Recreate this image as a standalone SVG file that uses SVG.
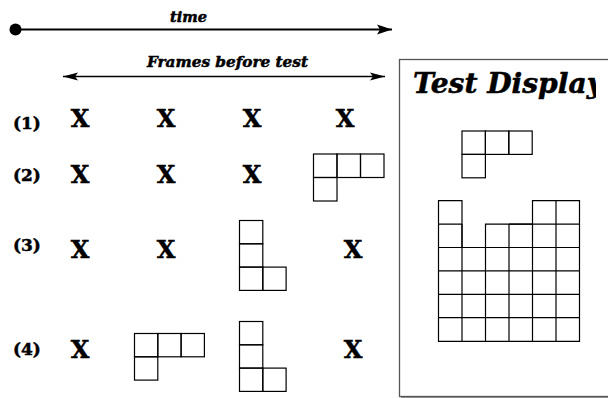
<svg xmlns="http://www.w3.org/2000/svg" width="608" height="398" viewBox="0 0 608 398">
<style>
.lbl{font-family:"DejaVu Serif","Liberation Serif",serif;font-weight:bold;fill:#000;stroke:#000;stroke-width:0.5}
.it{font-style:italic}
.x{font-size:24px;text-anchor:middle}
.row{font-size:17px}
.cell{fill:none;stroke:#000;stroke-width:1.2}
.ln{stroke:#000;fill:none}
</style>
<defs>
<marker id="ah" markerWidth="16" markerHeight="12" refX="15" refY="6" orient="auto" markerUnits="userSpaceOnUse">
<path d="M0,1 L15,6 L0,11 L3,6 Z" fill="#000"/>
</marker>
<marker id="ahs" markerWidth="16" markerHeight="10" refX="15" refY="5" orient="auto-start-reverse" markerUnits="userSpaceOnUse">
<path d="M0,1 L15,5 L0,9 L3,5 Z" fill="#000"/>
</marker>
<clipPath id="clipT"><rect x="399" y="59" width="197" height="60"/></clipPath>
</defs>

<g id="connectors">
<line class="ln" x1="15.5" y1="29.5" x2="392" y2="29.5" stroke-width="2" marker-end="url(#ah)"/>
<circle cx="15.5" cy="29.5" r="6" fill="#000"/>
<line class="ln" x1="63" y1="76.5" x2="385" y2="76.5" stroke-width="1.5" marker-start="url(#ahs)" marker-end="url(#ahs)"/>
</g>

<g id="labels">
<text class="lbl it" x="188.5" y="22" font-size="15" text-anchor="middle" textLength="37" lengthAdjust="spacingAndGlyphs">time</text>
<text class="lbl it" x="227.5" y="67" font-size="15" text-anchor="middle" textLength="161" lengthAdjust="spacingAndGlyphs">Frames before test</text>
</g>

<g id="row1">
<text class="lbl row" x="13" y="129">(1)</text>
<text class="lbl x" x="80" y="127">X</text>
<text class="lbl x" x="166" y="127">X</text>
<text class="lbl x" x="252" y="127">X</text>
<text class="lbl x" x="345" y="127">X</text>
</g>

<g id="row2">
<text class="lbl row" x="13" y="181">(2)</text>
<text class="lbl x" x="80" y="183">X</text>
<text class="lbl x" x="166" y="183">X</text>
<text class="lbl x" x="252" y="183">X</text>
<g id="piece2">
<rect class="cell" x="313.5" y="154" width="23.5" height="23.5"/>
<rect class="cell" x="337" y="154" width="23.5" height="23.5"/>
<rect class="cell" x="360.5" y="154" width="23.5" height="23.5"/>
<rect class="cell" x="313.5" y="177.5" width="23.5" height="23.5"/>
</g>
</g>

<g id="row3">
<text class="lbl row" x="13" y="251">(3)</text>
<text class="lbl x" x="80" y="258">X</text>
<text class="lbl x" x="166" y="258">X</text>
<text class="lbl x" x="353" y="258">X</text>
<g id="piece3">
<rect class="cell" x="239.5" y="220.5" width="23.3" height="23.3"/>
<rect class="cell" x="239.5" y="243.8" width="23.3" height="23.3"/>
<rect class="cell" x="239.5" y="267.1" width="23.3" height="23.3"/>
<rect class="cell" x="262.8" y="267.1" width="23.3" height="23.3"/>
</g>
</g>

<g id="row4">
<text class="lbl row" x="13" y="355">(4)</text>
<text class="lbl x" x="80" y="358">X</text>
<text class="lbl x" x="353" y="358">X</text>
<g id="piece4a">
<rect class="cell" x="134.5" y="333.5" width="23.3" height="23.3"/>
<rect class="cell" x="157.8" y="333.5" width="23.3" height="23.3"/>
<rect class="cell" x="181.1" y="333.5" width="23.3" height="23.3"/>
<rect class="cell" x="134.5" y="356.8" width="23.3" height="23.3"/>
</g>
<g id="piece4b">
<rect class="cell" x="239.5" y="321.5" width="23.3" height="23.3"/>
<rect class="cell" x="239.5" y="344.8" width="23.3" height="23.3"/>
<rect class="cell" x="239.5" y="368.1" width="23.3" height="23.3"/>
<rect class="cell" x="262.8" y="368.1" width="23.3" height="23.3"/>
</g>
</g>

<g id="testdisplay">
<line x1="401" y1="397.5" x2="608" y2="397.5" stroke="#999" stroke-width="1"/>
<rect x="399.5" y="59.5" width="230" height="337" fill="#fff" stroke="#555" stroke-width="1.3"/>
<text class="lbl it" x="413" y="93" font-size="27" textLength="190" lengthAdjust="spacingAndGlyphs" clip-path="url(#clipT)">Test Display</text>
<g id="testpiece">
<rect class="cell" x="462" y="131" width="23.4" height="23.4"/>
<rect class="cell" x="485.4" y="131" width="23.4" height="23.4"/>
<rect class="cell" x="508.8" y="131" width="23.4" height="23.4"/>
<rect class="cell" x="462" y="154.4" width="23.4" height="23.4"/>
</g>
<g id="grid">
<path class="cell" d="M438.5,200.7 h23.5 v46.8 h23.5 v-23.4 h47 v-23.4 h47 v140.6 h-141 Z"/>
<path class="cell" d="M462,224.1 v117.2 M485.5,247.5 v93.8 M509,224.1 v117.2 M532.5,224.1 v117.2 M556,200.7 v140.6"/>
<path class="cell" d="M438.5,224.1 h23.5 M509,224.1 h23.5 M532.5,224.1 h47 M438.5,247.5 h141 M438.5,270.9 h141 M438.5,294.3 h141 M438.5,317.7 h141"/>
</g>
</g>
</svg>
